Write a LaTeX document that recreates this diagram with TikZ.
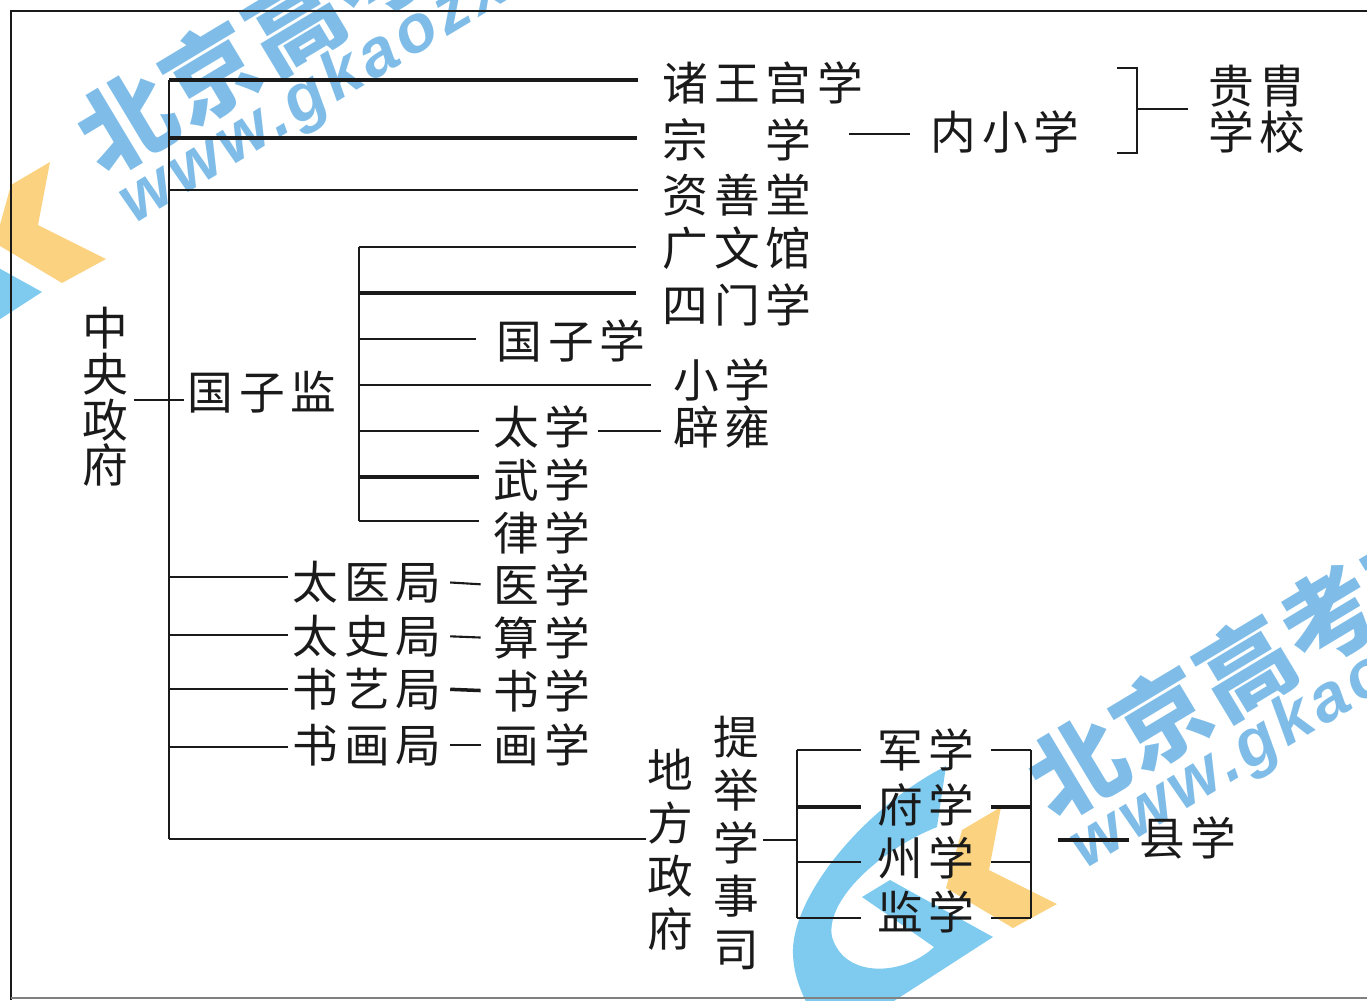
\documentclass[tikz,border=0pt]{standalone}
\usepackage{fontspec}
\newfontfamily\cjk[LetterSpace=13]{Noto Sans CJK SC}
\newfontfamily\cjkplain{Noto Sans CJK SC}
\newfontfamily\markcn[LetterSpace=3]{Noto Sans CJK SC}
\newfontfamily\markurl[LetterSpace=7]{Liberation Sans}
\definecolor{markblue}{HTML}{7FBDE8}
\definecolor{logoblue}{HTML}{7FCBF0}
\definecolor{logoorange}{HTML}{FBD27F}
\definecolor{ink}{HTML}{1A1A1A}
\tikzset{
	lab/.style={inner sep=0pt, text=ink, font=\fontsize{13}{13}\selectfont\cjk},
	stacktight/.style={inner sep=0pt, text=ink, align=center, font=\fontsize{13}{13}\selectfont\cjkplain},
	stackpair/.style={inner sep=0pt, text=ink, align=center, font=\fontsize{13}{13}\selectfont\cjk},
	stackwide/.style={inner sep=0pt, text=ink, align=center, font=\fontsize{13}{15.1}\selectfont\cjkplain},
	lnk/.style={ink, line width=.6pt},
	lnkb/.style={ink, line width=1pt},
}
\begin{document}
\begin{tikzpicture}[x=.01cm,y=-.01cm]
	\useasboundingbox (0,0) rectangle (1367,1000);

	\begin{scope}
		\clip (0,0) rectangle (1367,1000);
		\foreach \dx/\dy in {-951/-645,0/0}{
			\begin{scope}[shift={(\dx,\dy)}]
				\fill[logoorange] (1001,807) -- (989,870) -- (1057,904) -- (1013,928) -- (946,888) -- (962,830) -- cycle;
				\fill[logoblue] (946,766) .. controls (860,810) and (790,900) .. (793,955) .. controls (794,975) and (800,990) .. (810,1010) -- (880,1010) -- (993,937) -- (890,880) -- (862,897) -- (934,947) .. controls (905,975) and (845,980) .. (832,937) .. controls (825,900) and (880,850) .. (937,827) -- cycle;
				\node[anchor=west, inner sep=0pt, rotate=31, text=markblue, font=\fontsize{27}{27}\selectfont\markcn\bfseries] at (1036,792) {北京高考在线};
				\node[anchor=west, inner sep=0pt, rotate=31, text=markblue, font=\fontsize{19}{19}\selectfont\markurl\bfseries\itshape] at (1076,855) {www.gkaozx.com};
			\end{scope}
		}
	\end{scope}

	\draw[lnk, line width=.8pt] (11,1000) -- (11,11) -- (1367,11);
	\draw[lnk, gray, line width=.5pt] (11,998) -- (1367,998);

	\node[stacktight] (zhongyang) at (105,397) {中\\央\\政\\府};
	\node[lab] (guozijian) at (262,392) {国子监};
	\node[lab] (zhuwang) at (763,83) {诸王宫学};
	\node[lab] (zongxue) at (737,140) {宗　学};
	\node[lab] (neixiao) at (1005,132) {内小学};
	\node[stackpair] (guizhou) at (1257,109) {贵胄\\学校};
	\node[lab] (zishan) at (737,195) {资善堂};
	\node[lab] (guangwen) at (737,248) {广文馆};
	\node[lab] (simen) at (737,305) {四门学};
	\node[lab] (guozixue) at (571,341) {国子学};
	\node[lab] (xiaoxue) at (722,380) {小学};
	\node[lab] (biyong) at (722,427) {辟雍};
	\node[lab] (taixue) at (542,427) {太学};
	\node[lab] (wuxue) at (542,480) {武学};
	\node[lab] (lvxue) at (542,533) {律学};
	\node[lab] (taiyi) at (367,582) {太医局};
	\node[lab] (yixue) at (542,585) {医学};
	\node[lab] (taishi) at (367,636) {太史局};
	\node[lab] (suanxue) at (542,638) {算学};
	\node[lab] (shuyi) at (367,689) {书艺局};
	\node[lab] (shuxue) at (542,691) {书学};
	\node[lab] (shuhua) at (367,745) {书画局};
	\node[lab] (huaxue) at (542,745) {画学};
	\node[stackwide] (difang) at (670,850) {地\\方\\政\\府};
	\node[stackwide] (tiju) at (736,843) {提\\举\\学\\事\\司};
	\node[lab] (junxue) at (926,750) {军学};
	\node[lab] (fuxue) at (926,805) {府学};
	\node[lab] (zhouxue) at (926,858) {州学};
	\node[lab] (jianxue) at (926,912) {监学};
	\node[lab] (xianxue) at (1188,838) {县学};

	\coordinate (zTop) at (169,80);
	\coordinate (zB) at (169,138);
	\coordinate (zC) at (169,190);
	\coordinate (zMid) at (169,400);
	\coordinate (zYi) at (169,577);
	\coordinate (zShi) at (169,635);
	\coordinate (zYs) at (169,689);
	\coordinate (zHua) at (169,747);
	\coordinate (zEnd) at (169,839);
	\coordinate (gTop) at (359,247);
	\coordinate (gB) at (359,293);
	\coordinate (gC) at (359,339);
	\coordinate (gD) at (359,385);
	\coordinate (gE) at (359,431);
	\coordinate (gF) at (359,477);
	\coordinate (gEnd) at (359,521);
	\coordinate (tTop) at (797,750);
	\coordinate (tB) at (797,807);
	\coordinate (tC) at (797,862);
	\coordinate (tEnd) at (797,918);
	\coordinate (tMid) at (797,840);
	\coordinate (rTop) at (1031,750);
	\coordinate (rB) at (1031,807);
	\coordinate (rC) at (1031,862);
	\coordinate (rEnd) at (1031,918);
	\coordinate (bTop) at (1137,68);
	\coordinate (bMid) at (1137,109);
	\coordinate (bEnd) at (1137,153);
	\coordinate (bTopL) at (1117,68);
	\coordinate (bEndL) at (1117,153);
	\coordinate (xFree) at (1058,840);
	\coordinate (nFree) at (849,134);
	\coordinate (tjFree) at (763,840);
	\coordinate (txFree) at (598,431);

	\draw[lnk] (zTop) -- (zEnd);
	\draw[lnkb, shorten >=.24cm] (zTop) -- (zTop -| zhuwang.west);
	\draw[lnkb, shorten >=.25cm] (zB) -- (zB -| zongxue.west);
	\draw[lnk, shorten >=.24cm] (zC) -- (zC -| zishan.west);
	\draw[lnk, shorten <=-.35cm, shorten >=.03cm] (zMid) -- (zMid -| guozijian.west);
	\draw[lnk, shorten >=.04cm] (zYi) -- (zYi -| taiyi.west);
	\draw[lnk, shorten >=.04cm] (zShi) -- (zShi -| taishi.west);
	\draw[lnk, shorten >=.04cm] (zYs) -- (zYs -| shuyi.west);
	\draw[lnk, shorten >=.04cm] (zHua) -- (zHua -| shuhua.west);
	\draw[lnk] (zEnd) -- (zEnd -| difang.west);

	\draw[lnk, line width=.8pt] (gTop) -- (gEnd);
	\draw[lnk, shorten >=.26cm] (gTop) -- (gTop -| guangwen.west);
	\draw[lnkb, shorten >=.26cm] (gB) -- (gB -| simen.west);
	\draw[lnk, shorten >=.2cm] (gC) -- (gC -| guozixue.west);
	\draw[lnk, shorten >=.22cm] (gD) -- (gD -| xiaoxue.west);
	\draw[lnk, shorten >=.14cm] (gE) -- (gE -| taixue.west);
	\draw[lnkb, shorten >=.14cm] (gF) -- (gF -| wuxue.west);
	\draw[lnk, shorten >=.14cm] (gEnd) -- (gEnd -| lvxue.west);

	\draw[lnk, shorten >=.12cm] (txFree) -- (txFree -| biyong.west);
	\draw[lnk, shorten <=.08cm, shorten >=.12cm] (taiyi.east) -- (yixue.west);
	\draw[lnk, shorten <=.08cm, shorten >=.12cm] (taishi.east) -- (suanxue.west);
	\draw[lnkb, shorten <=.08cm, shorten >=.12cm] (shuyi.east) -- (shuxue.west);
	\draw[lnk, shorten <=.08cm, shorten >=.12cm] (shuhua.east) -- (huaxue.west);

	\draw[lnk, shorten >=.2cm] (nFree) -- (nFree -| neixiao.west);
	\draw[lnk] (bTopL) -- (bTop) -- (bEnd) -- (bEndL);
	\draw[lnk, shorten >=.2cm] (bMid) -- (bMid -| guizhou.west);

	\draw[lnk] (tjFree) -- (tMid);
	\draw[lnk] (tTop) -- (tEnd);
	\draw[lnk, shorten >=.16cm] (tTop) -- (tTop -| junxue.west);
	\draw[lnkb, shorten >=.16cm] (tB) -- (tB -| fuxue.west);
	\draw[lnk, shorten >=.16cm] (tC) -- (tC -| zhouxue.west);
	\draw[lnk, shorten >=.16cm] (tEnd) -- (tEnd -| jianxue.west);
	\draw[lnk] (rTop) -- (rEnd);
	\draw[lnk, shorten >=.16cm] (rTop) -- (rTop -| junxue.east);
	\draw[lnkb, shorten >=.16cm] (rB) -- (rB -| fuxue.east);
	\draw[lnk, shorten >=.16cm] (rC) -- (rC -| zhouxue.east);
	\draw[lnk, shorten >=.16cm] (rEnd) -- (rEnd -| jianxue.east);
	\draw[lnkb, shorten >=.1cm] (xFree) -- (xFree -| xianxue.west);
\end{tikzpicture}
\end{document}
